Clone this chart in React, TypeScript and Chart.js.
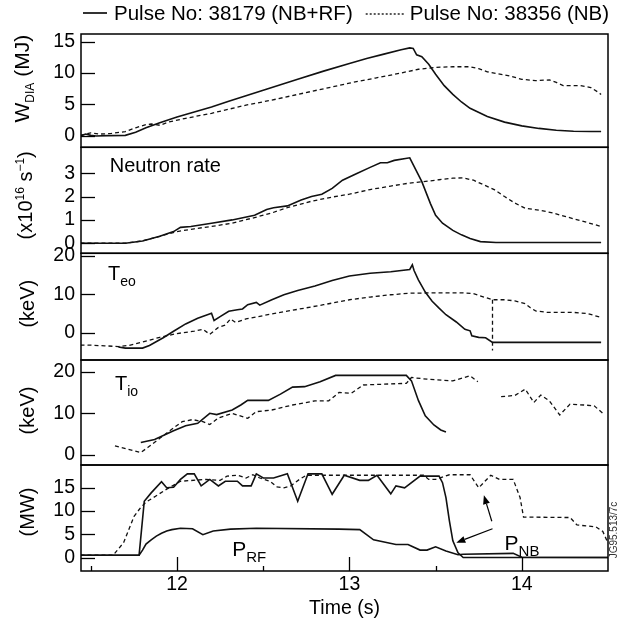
import React, { useEffect, useRef } from 'react';
import { Chart, registerables } from 'chart.js';

Chart.register(...registerables);

const FONT = '"Liberation Sans", Arial, Helvetica, sans-serif';

// ---------- axes ----------
const X_MIN = 11.443;
const X_MAX = 14.5;
const X_TICKS = [11.5, 12, 12.5, 13, 13.5, 14];
const X_LABELED = [12, 13, 14];

const W_RANGE = [-1.8, 16.2];
const W_TICKS = [0, 5, 10, 15];
const N_RANGE = [-0.43, 4.11];
const N_TICKS = [0, 1, 2, 3];
const TE_RANGE = [-7.1, 20.7];
const TE_TICKS = [0, 10, 20];
const TI_RANGE = [-2.4, 22.8];
const TI_TICKS = [0, 10, 20];
const P_RANGE = [-2.9, 19.9];
const P_TICKS = [0, 5, 10, 15];

const LEGEND_LABELS = ['Pulse No: 38179 (NB+RF)', 'Pulse No: 38356 (NB)'];

// ---------- W_DIA (MJ) ----------
const W_SOLID_T = [11.44, 11.47, 11.5, 11.53, 11.6, 11.7, 11.76, 11.82, 11.9, 12.0, 12.1, 12.2, 12.3, 12.4, 12.55, 12.7, 12.85, 13.0, 13.1, 13.2, 13.3, 13.35, 13.37, 13.39, 13.42, 13.46, 13.5, 13.55, 13.6, 13.65, 13.7, 13.8, 13.9, 14.0, 14.1, 14.2, 14.3, 14.4, 14.46];
const W_SOLID_V = [0.0, 0.3, 0.1, 0.0, 0.05, 0.1, 0.6, 1.3, 2.1, 3.0, 3.8, 4.6, 5.5, 6.4, 7.7, 9.0, 10.3, 11.5, 12.3, 13.0, 13.7, 14.0, 13.9, 12.9, 12.6, 11.4, 9.8, 8.0, 6.6, 5.4, 4.4, 3.1, 2.2, 1.6, 1.2, 0.9, 0.75, 0.7, 0.7];
const W_DASH_T = [11.44, 11.5, 11.55, 11.62, 11.7, 11.76, 11.82, 11.85, 11.9, 11.95, 12.05, 12.2, 12.4, 12.55, 12.7, 12.85, 13.0, 13.15, 13.3, 13.4, 13.5, 13.6, 13.7, 13.75, 13.8, 13.86, 13.92, 14.0, 14.08, 14.16, 14.2, 14.24, 14.34, 14.4, 14.44, 14.46];
const W_DASH_V = [0.1, 0.5, 0.3, 0.4, 0.7, 1.3, 1.8, 1.9, 1.7, 2.2, 2.8, 3.6, 4.9, 5.7, 6.6, 7.5, 8.4, 9.2, 10.0, 10.6, 10.9, 11.0, 11.0, 10.7, 10.2, 9.9, 9.6, 9.0, 8.8, 8.9, 8.5, 8.0, 8.0, 7.7, 7.0, 6.6];

// ---------- Neutron rate (x10^16 s^-1) ----------
const N_SOLID_T = [11.44, 11.7, 11.8, 11.9, 11.98, 12.02, 12.08, 12.2, 12.32, 12.45, 12.52, 12.56, 12.64, 12.72, 12.78, 12.84, 12.9, 12.96, 13.04, 13.12, 13.18, 13.22, 13.26, 13.35, 13.42, 13.47, 13.5, 13.54, 13.6, 13.65, 13.7, 13.76, 13.85, 14.46];
const N_SOLID_V = [0.0, 0.0, 0.1, 0.3, 0.5, 0.68, 0.72, 0.86, 1.0, 1.2, 1.45, 1.52, 1.6, 1.85, 2.0, 2.1, 2.35, 2.7, 2.98, 3.25, 3.45, 3.45, 3.55, 3.66, 2.64, 1.7, 1.2, 0.86, 0.55, 0.36, 0.2, 0.07, 0.03, 0.03];
const N_DASH_T = [11.44, 11.7, 11.8, 11.9, 12.0, 12.1, 12.2, 12.32, 12.45, 12.55, 12.65, 12.78, 12.9, 13.0, 13.12, 13.24, 13.35, 13.42, 13.52, 13.6, 13.66, 13.72, 13.78, 13.84, 13.9, 13.96, 14.02, 14.1, 14.18, 14.25, 14.35, 14.46];
const N_DASH_V = [0.0, 0.0, 0.1, 0.3, 0.5, 0.62, 0.72, 0.86, 1.1, 1.3, 1.55, 1.8, 1.98, 2.1, 2.3, 2.45, 2.58, 2.63, 2.72, 2.79, 2.8, 2.7, 2.5, 2.3, 2.0, 1.72, 1.5, 1.42, 1.3, 1.15, 0.95, 0.72];

// ---------- T_eo (keV) ----------
const TE_SOLID_T = [11.66, 11.7, 11.8, 11.84, 11.92, 11.98, 12.05, 12.12, 12.2, 12.215, 12.25, 12.3, 12.35, 12.38, 12.41, 12.46, 12.48, 12.55, 12.62, 12.7, 12.8, 12.9, 13.0, 13.12, 13.24, 13.35, 13.365, 13.375, 13.4, 13.44, 13.48, 13.52, 13.56, 13.62, 13.67, 13.7, 13.71, 13.75, 13.79, 13.83, 14.46];
const TE_SOLID_V = [-3.7, -4.0, -4.0, -3.3, -1.3, 0.4, 2.3, 3.8, 5.1, 3.2, 4.2, 5.6, 6.0, 6.2, 7.3, 7.9, 7.2, 8.6, 9.9, 11.0, 12.2, 13.6, 14.8, 15.5, 15.9, 16.5, 17.7, 16.2, 13.8, 10.6, 8.2, 6.4, 4.7, 2.8, 0.9, 0.5, -0.8, -1.2, -1.3, -2.5, -2.5];
const TE_DASH_T = [11.44, 11.48, 11.58, 11.66, 11.72, 11.8, 11.9, 12.0, 12.1, 12.15, 12.19, 12.24, 12.28, 12.31, 12.34, 12.4, 12.55, 12.7, 12.85, 13.0, 13.12, 13.24, 13.35, 13.5, 13.65, 13.72, 13.78, 13.83, 13.9, 13.96, 14.02, 14.05, 14.08, 14.15, 14.3, 14.38, 14.46];
const TE_DASH_V = [-3.2, -3.2, -3.4, -3.6, -3.3, -2.4, -1.2, -0.2, 0.4, 0.9, -0.4, 1.4, 2.0, 3.6, 2.7, 3.6, 4.9, 6.1, 7.3, 8.6, 9.3, 9.9, 10.3, 10.4, 10.4, 10.2, 9.3, 8.6, 8.6, 8.3, 7.6, 6.5, 5.7, 5.3, 5.3, 5.0, 4.0];
const TE_DROP_T = [13.83, 13.83];
const TE_DROP_V = [8.6, -4.6];

// ---------- T_io (keV) ----------
const TI_SOLID_T = [11.79, 11.87, 11.98, 12.05, 12.12, 12.19, 12.23, 12.32, 12.37, 12.41, 12.53, 12.6, 12.67, 12.74, 12.83, 12.92, 13.33, 13.36, 13.4, 13.44, 13.49, 13.53, 13.56];
const TI_SOLID_V = [3.0, 3.7, 5.8, 7.0, 7.6, 10.0, 9.7, 10.8, 12.0, 13.1, 13.1, 14.6, 16.3, 16.4, 17.6, 19.1, 19.1, 17.8, 13.1, 9.4, 7.2, 6.0, 5.5];
const TI_DASH_T = [11.64, 11.79, 11.83, 11.9, 11.96, 12.03, 12.09, 12.15, 12.19, 12.24, 12.32, 12.41, 12.46, 12.55, 12.67, 12.8, 12.88, 12.94, 13.01, 13.08, 13.2, 13.33, 13.36, 13.45, 13.6, 13.7, 13.745, 13.8, 13.88, 13.96, 14.02, 14.07, 14.11, 14.16, 14.22, 14.28, 14.36, 14.42, 14.47];
const TI_DASH_V = [2.2, 0.6, 1.8, 4.0, 5.9, 8.0, 8.5, 8.0, 7.3, 8.9, 10.0, 8.8, 10.4, 10.8, 12.0, 13.0, 13.0, 15.0, 14.8, 16.8, 17.0, 17.2, 18.6, 18.2, 17.8, 19.0, 17.6, null, 14.0, 14.3, 15.8, 12.6, 14.4, 13.0, 9.6, 12.2, 12.0, 11.8, 10.0];

// ---------- Power (MW) ----------
const PNB_SOLID_T = [11.44, 11.78, 11.81, 11.85, 11.91, 11.94, 11.98, 12.02, 12.06, 12.1, 12.14, 12.19, 12.24, 12.28, 12.35, 12.38, 12.43, 12.46, 12.5, 12.56, 12.64, 12.7, 12.76, 12.84, 12.9, 12.97, 13.06, 13.11, 13.16, 13.24, 13.27, 13.32, 13.41, 13.52, 13.54, 13.56, 13.58, 13.6, 13.63, 13.66, 14.5];
const PNB_SOLID_V = [0.5, 0.5, 12.1, 13.9, 16.3, 15.0, 15.1, 16.8, 18.0, 18.0, 15.4, 16.8, 15.4, 16.4, 16.4, 15.4, 15.4, 18.0, 17.1, 17.1, 18.0, 12.1, 18.0, 18.0, 13.6, 17.7, 16.6, 16.6, 17.7, 13.7, 15.4, 15.0, 17.5, 17.5, 16.1, 12.9, 7.9, 3.6, 1.0, 0.0, 0.0];
const PRF_SOLID_T = [11.44, 11.78, 11.8, 11.82, 11.85, 11.88, 11.91, 11.94, 11.97, 12.02, 12.09, 12.15, 12.21, 12.31, 12.46, 12.94, 13.06, 13.14, 13.27, 13.34, 13.41, 13.45, 13.5, 13.56, 13.63, 13.66, 13.95, 14.0, 14.5];
const PRF_SOLID_V = [0.5, 0.5, 1.6, 2.9, 3.8, 4.6, 5.2, 5.7, 6.0, 6.3, 6.2, 4.9, 5.7, 6.1, 6.3, 6.1, 6.0, 3.8, 2.8, 2.8, 1.6, 1.6, 2.3, 1.4, 0.6, 0.7, 0.9, 0.05, 0.0];
const PNB_DASH_T = [11.44, 11.63, 11.69, 11.75, 11.79, 11.82, 11.88, 11.94, 12.02, 12.17, 12.25, 12.29, 12.35, 12.4, 12.44, 12.48, 12.54, 12.58, 12.62, 12.66, 12.71, 12.75, 13.43, 13.46, 13.5, 13.58, 13.7, 13.75, 13.82, 13.87, 13.95, 13.99, 14.01, 14.28, 14.32, 14.43, 14.47, 14.5];
const PNB_DASH_V = [0.5, 0.5, 3.2, 8.8, 10.8, 11.9, 13.3, 14.7, 16.4, 16.8, 16.6, 17.5, 17.7, 17.1, 17.8, 17.1, 16.4, 15.2, 15.0, 15.4, 16.8, 17.7, 17.7, 16.8, 16.8, 17.8, 17.8, 15.0, 17.7, 16.8, 16.8, 12.9, 8.7, 8.6, 7.0, 6.6, 5.6, 3.1];

// ---------- annotations (data units) ----------
const PANEL_LABELS = [
  { scale: 'yN', x: 11.61, y: 3.36, main: 'Neutron rate', sub: '' },
  { scale: 'yTe', x: 11.6, y: 15.6, main: 'T', sub: 'eo' },
  { scale: 'yTi', x: 11.64, y: 17.3, main: 'T', sub: 'io' },
  { scale: 'yP', x: 12.32, y: 1.9, main: 'P', sub: 'RF' },
  { scale: 'yP', x: 13.9, y: 3.2, main: 'P', sub: 'NB' },
];
const ARROWS = [
  { scale: 'yP', from: [13.83, 6.2], to: [13.62, 3.2] },
  { scale: 'yP', from: [13.826, 7.8], to: [13.78, 13.4] },
];

const pts = (t: number[], v: (number | null)[]) => t.map((x, i) => ({ x, y: v[i] }));

const SOLID = { borderColor: '#111', borderWidth: 1.6, borderDash: [] as number[] };
const DASHED = { borderColor: '#111', borderWidth: 1.3, borderDash: [4, 3] };

function line(label: string, t: number[], v: (number | null)[], yAxisID: string, style: any) {
  return {
    label,
    data: pts(t, v),
    xAxisID: 'x',
    yAxisID,
    pointRadius: 0,
    tension: 0,
    spanGaps: false,
    fill: false,
    ...style,
  };
}

function yScale(range: number[], ticks: number[], weight: number, stackWeight: number) {
  return {
    type: 'linear',
    position: 'left',
    stack: 'panels',
    stackWeight,
    weight,
    min: range[0],
    max: range[1],
    grid: { display: false, drawTicks: false },
    border: { display: false },
    afterBuildTicks: (s: any) => {
      s.ticks = ticks.map((value) => ({ value }));
    },
    afterFit: (s: any) => {
      s.width = 81;
    },
    ticks: {
      autoSkip: false,
      padding: 6,
      color: '#000',
      font: { family: FONT, size: 19.5 },
      callback: (v: any) => String(v),
    },
  };
}

const Y_IDS = ['yW', 'yN', 'yTe', 'yTi', 'yP'];

function drawRich(ctx: CanvasRenderingContext2D, parts: { text: string; size: number; dy: number }[], x: number, y: number, center: boolean) {
  let total = 0;
  for (const p of parts) {
    ctx.font = `${p.size}px ${FONT}`;
    total += ctx.measureText(p.text).width;
  }
  let cx = center ? x - total / 2 : x;
  for (const p of parts) {
    ctx.font = `${p.size}px ${FONT}`;
    ctx.fillText(p.text, cx, y + p.dy);
    cx += ctx.measureText(p.text).width;
  }
}

const overlay = {
  id: 'overlay',
  afterDraw(chart: any) {
    const ctx: CanvasRenderingContext2D = chart.ctx;
    const area = chart.chartArea;
    const xs = chart.scales.x;
    ctx.save();
    ctx.strokeStyle = '#000';
    ctx.fillStyle = '#000';
    ctx.setLineDash([]);

    // panel frames and inner y ticks
    for (const id of Y_IDS) {
      const s = chart.scales[id];
      ctx.lineWidth = 1.5;
      ctx.strokeRect(area.left, s.top, area.right - area.left, s.bottom - s.top);
      ctx.lineWidth = 1.3;
      for (const t of s.ticks) {
        const py = Math.round(s.getPixelForValue(t.value)) + 0.5;
        ctx.beginPath();
        ctx.moveTo(area.left, py);
        ctx.lineTo(area.left + 14, py);
        ctx.stroke();
      }
    }
    // inner x ticks on bottom frame
    const bottom = chart.scales.yP.bottom;
    for (const t of xs.ticks) {
      const px = Math.round(xs.getPixelForValue(t.value)) + 0.5;
      const len = X_LABELED.includes(t.value) ? 14 : 5;
      ctx.beginPath();
      ctx.moveTo(px, bottom);
      ctx.lineTo(px, bottom - len);
      ctx.stroke();
    }

    // y titles (rotated)
    ctx.textBaseline = 'alphabetic';
    ctx.textAlign = 'left';
    const titles = [
      { id: 'yW', dy: -12, x: 22, parts: [{ text: 'W', size: 21, dy: 0 }, { text: 'DIA', size: 12, dy: 5 }, { text: ' (MJ)', size: 21, dy: 0 }] },
      { id: 'yN', dy: -5, x: 25, parts: [{ text: '(x10', size: 20, dy: 0 }, { text: '16', size: 12, dy: -8 }, { text: ' s', size: 20, dy: 0 }, { text: '\u22121', size: 12, dy: -8 }, { text: ')', size: 20, dy: 0 }] },
      { id: 'yTe', dy: -3, x: 27, parts: [{ text: '(keV)', size: 20, dy: 0 }] },
      { id: 'yTi', dy: -2, x: 27, parts: [{ text: '(keV)', size: 20, dy: 0 }] },
      { id: 'yP', dy: -6, x: 27, parts: [{ text: '(MW)', size: 20, dy: 0 }] },
    ];
    for (const t of titles) {
      const s = chart.scales[t.id];
      const cy = (s.top + s.bottom) / 2 + t.dy;
      ctx.save();
      ctx.translate(t.x, cy);
      ctx.rotate(-Math.PI / 2);
      drawRich(ctx, t.parts, 0, 7, true);
      ctx.restore();
    }

    // in-panel labels
    for (const l of PANEL_LABELS) {
      const s = chart.scales[l.scale];
      const px = xs.getPixelForValue(l.x);
      const py = s.getPixelForValue(l.y);
      const parts = [{ text: l.main, size: l.main === 'P' ? 21 : 20, dy: 0 }];
      if (l.sub) parts.push({ text: l.sub, size: l.main === 'P' ? 15 : 14, dy: 6 });
      drawRich(ctx, parts, px, py + 7, false);
    }

    // arrows
    ctx.lineWidth = 1.2;
    for (const a of ARROWS) {
      const s = chart.scales[a.scale];
      const x1 = xs.getPixelForValue(a.from[0]);
      const y1 = s.getPixelForValue(a.from[1]);
      const x2 = xs.getPixelForValue(a.to[0]);
      const y2 = s.getPixelForValue(a.to[1]);
      const ang = Math.atan2(y2 - y1, x2 - x1);
      const hl = 9;
      const hw = 3.5;
      const bx = x2 - hl * Math.cos(ang);
      const by = y2 - hl * Math.sin(ang);
      ctx.beginPath();
      ctx.moveTo(x1, y1);
      ctx.lineTo(bx, by);
      ctx.stroke();
      ctx.beginPath();
      ctx.moveTo(x2, y2);
      ctx.lineTo(bx - hw * Math.sin(ang), by + hw * Math.cos(ang));
      ctx.lineTo(bx + hw * Math.sin(ang), by - hw * Math.cos(ang));
      ctx.closePath();
      ctx.fill();
    }

    // legend
    const ly = 13;
    ctx.font = `20.5px ${FONT}`;
    ctx.textBaseline = 'middle';
    const ds0 = chart.data.datasets[0];
    const ds1 = chart.data.datasets[1];
    let lx = 83;
    ctx.lineWidth = ds0.borderWidth;
    ctx.setLineDash(ds0.borderDash);
    ctx.beginPath();
    ctx.moveTo(lx, ly);
    ctx.lineTo(lx + 24, ly);
    ctx.stroke();
    lx += 31;
    ctx.fillText(LEGEND_LABELS[0], lx, ly + 1);
    lx += ctx.measureText(LEGEND_LABELS[0]).width + 13;
    ctx.lineWidth = ds1.borderWidth;
    ctx.setLineDash([2, 2]);
    ctx.beginPath();
    ctx.moveTo(lx, ly + 1);
    ctx.lineTo(lx + 38, ly + 1);
    ctx.stroke();
    ctx.setLineDash([]);
    lx += 44;
    ctx.fillText(LEGEND_LABELS[1], lx, ly + 1);

    // figure reference code at right edge
    ctx.save();
    ctx.font = `10px ${FONT}`;
    ctx.fillStyle = '#333';
    ctx.textAlign = 'center';
    ctx.translate(614, 530);
    ctx.rotate(-Math.PI / 2);
    ctx.fillText('JG95.513/7c', 0, 0);
    ctx.restore();

    ctx.restore();
  },
};

export default function App() {
  const ref = useRef<HTMLCanvasElement>(null);
  useEffect(() => {
    if (!ref.current) return;
    const chart = new Chart(ref.current, {
      type: 'line',
      data: {
        datasets: [
          line('W solid', W_SOLID_T, W_SOLID_V, 'yW', SOLID),
          line('W dashed', W_DASH_T, W_DASH_V, 'yW', DASHED),
          line('N solid', N_SOLID_T, N_SOLID_V, 'yN', SOLID),
          line('N dashed', N_DASH_T, N_DASH_V, 'yN', DASHED),
          line('Te solid', TE_SOLID_T, TE_SOLID_V, 'yTe', SOLID),
          line('Te dashed', TE_DASH_T, TE_DASH_V, 'yTe', DASHED),
          line('Te drop', TE_DROP_T, TE_DROP_V, 'yTe', DASHED),
          line('Ti solid', TI_SOLID_T, TI_SOLID_V, 'yTi', SOLID),
          line('Ti dashed', TI_DASH_T, TI_DASH_V, 'yTi', DASHED),
          line('PNB solid', PNB_SOLID_T, PNB_SOLID_V, 'yP', SOLID),
          line('PRF solid', PRF_SOLID_T, PRF_SOLID_V, 'yP', SOLID),
          line('PNB dashed', PNB_DASH_T, PNB_DASH_V, 'yP', DASHED),
        ],
      } as any,
      options: {
        animation: false,
        responsive: false,
        maintainAspectRatio: false,
        layout: { padding: { top: 34, right: 10, left: 0, bottom: 0 } },
        plugins: { legend: { display: false }, tooltip: { enabled: false } },
        scales: {
          x: {
            type: 'linear',
            position: 'bottom',
            min: X_MIN,
            max: X_MAX,
            grid: { display: false, drawTicks: false },
            border: { display: false },
            afterBuildTicks: (s: any) => {
              s.ticks = X_TICKS.map((value) => ({ value }));
            },
            afterFit: (s: any) => {
              s.height = 59;
            },
            ticks: {
              autoSkip: false,
              maxRotation: 0,
              padding: 2,
              color: '#000',
              font: { family: FONT, size: 19.5 },
              callback: (v: any) => (X_LABELED.includes(v) ? String(v) : ''),
            },
            title: {
              display: true,
              text: 'Time (s)',
              color: '#000',
              font: { family: FONT, size: 19.5 },
              padding: { top: 0, bottom: 10 },
            },
          },
          yP: yScale(P_RANGE, P_TICKS, 1, 106),
          yTi: yScale(TI_RANGE, TI_TICKS, 2, 105),
          yTe: yScale(TE_RANGE, TE_TICKS, 3, 106.7),
          yN: yScale(N_RANGE, N_TICKS, 4, 106),
          yW: yScale(W_RANGE, W_TICKS, 5, 113.3),
        },
      } as any,
      plugins: [overlay],
    });
    return () => chart.destroy();
  }, []);
  return (
    <div style={{ position: 'absolute', left: 0, top: 0, width: 618, height: 630, background: '#fff' }}>
      <canvas ref={ref} width={618} height={630} style={{ display: 'block', width: 618, height: 630 }} />
    </div>
  );
}
